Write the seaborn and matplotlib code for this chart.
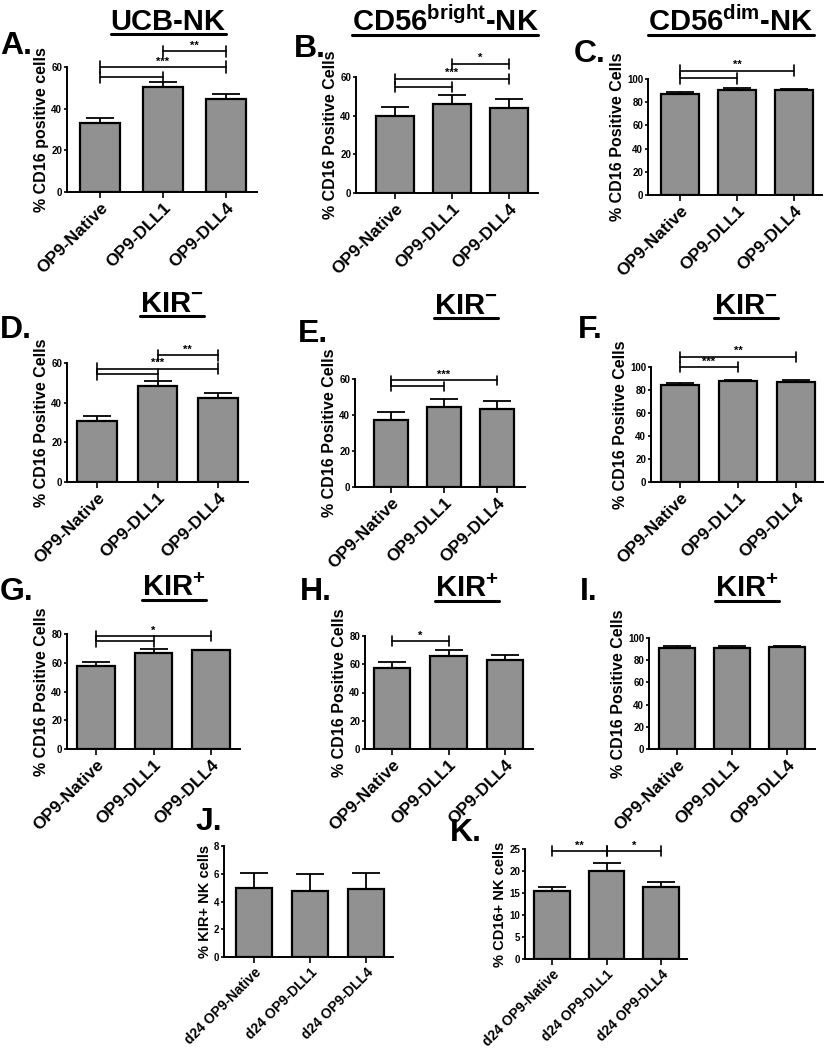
import matplotlib
matplotlib.use("Agg")
import matplotlib.pyplot as plt
from matplotlib.lines import Line2D
import seaborn as sns
import numpy as np

# ---------------- data ----------------
groups = ["OP9-Native", "OP9-DLL1", "OP9-DLL4"]
groups_d24 = ["d24 OP9-Native", "d24 OP9-DLL1", "d24 OP9-DLL4"]

A_mean = [33.0, 50.2, 44.7]
A_sem = [2.4, 2.4, 2.2]
A_sig = [(1, 2, 67.5, "**"), (0, 2, 60.0, "***"), (0, 1, 55.0, "")]

B_mean = [39.9, 45.9, 44.2]
B_sem = [4.8, 4.9, 4.5]
B_sig = [(1, 2, 66.8, "*"), (0, 2, 59.1, "***"), (0, 1, 54.8, "")]

C_mean = [87.0, 90.8, 90.5]
C_sem = [1.5, 1.1, 0.9]
C_sig = [(0, 2, 107.2, "**"), (0, 1, 100.6, "")]

D_mean = [30.9, 48.5, 42.5]
D_sem = [2.5, 2.5, 2.3]
D_sig = [(1, 2, 63.9, "**"), (0, 2, 57.2, "***"), (0, 1, 54.3, "")]

E_mean = [37.2, 44.3, 43.4]
E_sem = [4.7, 4.5, 4.5]
E_sig = [(0, 2, 59.2, "***"), (0, 1, 55.9, "")]

F_mean = [84.7, 87.9, 87.3]
F_sem = [1.2, 0.9, 1.2]
F_sig = [(0, 2, 108.9, "**"), (0, 1, 100.0, "***")]

G_mean = [57.4, 66.7, 68.8]
G_sem = [3.1, 2.8, 0.3]
G_sig = [(0, 2, 78.4, "*"), (0, 1, 74.9, "")]

H_mean = [57.2, 65.9, 63.1]
H_sem = [4.4, 4.0, 3.7]
H_sig = [(0, 1, 76.5, "*")]

I_mean = [91.0, 91.3, 91.6]
I_sem = [1.5, 1.2, 1.5]
I_sig = []

J_mean = [5.0, 4.76, 4.93]
J_sem = [1.06, 1.2, 1.13]
J_sig = []

K_mean = [15.35, 20.06, 16.4]
K_sem = [0.91, 1.67, 1.2]
K_sig = [(0, 1, 24.5, "**"), (1, 2, 24.5, "*")]

titles = {
    "A": "UCB-NK",
    "B": r"CD56$^{\mathbf{bright}}$-NK",
    "C": r"CD56$^{\mathbf{dim}}$-NK",
    "D": r"KIR$^{\mathbf{-}}$", "E": r"KIR$^{\mathbf{-}}$", "F": r"KIR$^{\mathbf{-}}$",
    "G": r"KIR$^{\mathbf{+}}$", "H": r"KIR$^{\mathbf{+}}$", "I": r"KIR$^{\mathbf{+}}$",
}
ylabels = {
    "A": "% CD16 positive cells",
    "J": "% KIR+ NK cells",
    "K": "% CD16+ NK cells",
}
default_ylabel = "% CD16 Positive Cells"

# ---------------- layout (pixels) ----------------
W, H = 825, 1050
# panel: (axes left, right, top, bottom, first cat px, last cat px, ymax, ystep)
layout = {
    "A": (67, 257, 67, 192, 100, 226, 60, 20),
    "B": (356, 538, 77, 193, 395, 509, 60, 20),
    "C": (648, 822, 79, 195, 680, 794, 100, 20),
    "D": (67, 248, 363, 482, 97, 218, 60, 20),
    "E": (355, 525, 379, 487, 391, 497, 60, 20),
    "F": (651, 823, 367, 482, 680, 796, 100, 20),
    "G": (67, 240, 634, 749, 96, 211, 80, 20),
    "H": (365, 533, 636, 749, 392, 505, 80, 20),
    "I": (649, 815, 638, 749, 677, 787, 100, 20),
    "J": (224, 393, 846, 957, 254, 366, 8, 2),
    "K": (525, 687, 849, 959, 552, 661, 25, 5),
}
title_pos = {
    "A": (168, 22), "B": (445, 22), "C": (731, 22),
    "D": (172, 304), "E": (466, 306), "F": (746, 306),
    "G": (174, 588), "H": (467, 589), "I": (747, 589),
}
letter_pos = {
    "A": (0, 46), "B": (294, 49), "C": (574, 54),
    "D": (0, 330), "E": (298, 334), "F": (578, 330),
    "G": (0, 592), "H": (300, 592), "I": (580, 592),
    "J": (196, 822), "K": (450, 833),
}

data = {
    "A": (A_mean, A_sem, A_sig), "B": (B_mean, B_sem, B_sig), "C": (C_mean, C_sem, C_sig),
    "D": (D_mean, D_sem, D_sig), "E": (E_mean, E_sem, E_sig), "F": (F_mean, F_sem, F_sig),
    "G": (G_mean, G_sem, G_sig), "H": (H_mean, H_sem, H_sig), "I": (I_mean, I_sem, I_sig),
    "J": (J_mean, J_sem, J_sig), "K": (K_mean, K_sem, K_sig),
}

# ---------------- style ----------------
sns.set_theme(style="ticks")
plt.rcParams["font.family"] = ["Liberation Sans", "DejaVu Sans"]
plt.rcParams["font.weight"] = "bold"
plt.rcParams["mathtext.fontset"] = "custom"
plt.rcParams["mathtext.bf"] = "Liberation Sans:bold"
plt.rcParams["mathtext.rm"] = "Liberation Sans:bold"
plt.rcParams["axes.linewidth"] = 1.4
for k in ("text.color", "axes.labelcolor", "xtick.color", "ytick.color", "axes.edgecolor"):
    plt.rcParams[k] = "black"

BAR_COLOR = "#919191"

fig = plt.figure(figsize=(W / 100, H / 100), dpi=100)
fig.patch.set_facecolor("white")

def fx(x):
    return x / W

def fy(y):
    return 1 - y / H

title_texts = []
for key, (L, R, T, B, c0, c2, ymax, ystep) in layout.items():
    means, sems, sigs = data[key]
    ax = fig.add_axes([fx(L), fy(B), (R - L) / W, (B - T) / H])
    cats = groups_d24 if key in ("J", "K") else groups
    sns.barplot(x=cats, y=means, ax=ax, color=BAR_COLOR, saturation=1,
                edgecolor="black", linewidth=1.6, width=0.65, errorbar=None, zorder=2)
    xs = np.arange(len(means))
    ax.errorbar(xs, means, yerr=[np.zeros(len(sems)), sems], fmt="none",
                ecolor="black", elinewidth=1.3, capsize=10, capthick=1.3, zorder=1)
    s = (c2 - c0) / 2
    ax.set_xlim((L - c0) / s, (R - c0) / s)
    ax.set_ylim(0, ymax)
    ax.set_yticks(np.arange(0, ymax + 0.01, ystep))
    ax.tick_params(axis="y", labelsize=7, length=2.5, width=1.2, pad=1)
    small = key in ("J", "K")
    ax.tick_params(axis="x", labelsize=10 if small else 12.5, length=4, width=1.2, pad=2)
    for lab in ax.get_yticklabels():
        lab.set_fontweight("bold")
    ax.set_xticks(xs)
    ax.set_xticklabels(cats, rotation=45, ha="right", rotation_mode="anchor",
                       fontweight="bold")
    ax.set_ylabel(ylabels.get(key, default_ylabel), fontsize=10.5 if small else 11.5,
                  fontweight="bold", labelpad=1.5)
    ax.set_xlabel("")
    sns.despine(ax=ax)
    ax.set_facecolor("none")

    # significance brackets
    cap = 0.045 * ymax
    for (i, j, yv, lab) in sigs:
        ax.plot([i, j], [yv, yv], color="black", lw=1.2, clip_on=False, zorder=3)
        for xe in (i, j):
            ax.plot([xe, xe], [yv - cap, yv + cap], color="black", lw=1.2,
                    clip_on=False, zorder=3)
        if lab:
            ax.text((i + j) / 2, yv + 0.005 * ymax, lab, ha="center", va="bottom",
                    fontsize=8, fontweight="bold", clip_on=False)

    # panel letter
    lx, ly = letter_pos[key]
    fig.text(fx(lx), fy(ly), key + ".", fontsize=23, fontweight="bold",
             ha="left", va="center")

    if key in title_pos:
        tx, ty = title_pos[key]
        t = fig.text(fx(tx), fy(ty), titles[key], fontsize=21, fontweight="bold",
                     ha="center", va="center")
        title_texts.append(t)

fig.canvas.draw()
renderer = fig.canvas.get_renderer()
for t in title_texts:
    bb = t.get_window_extent(renderer)
    yline = (bb.y0 + 2) / H
    fig.add_artist(Line2D([bb.x0 / W, bb.x1 / W], [yline, yline],
                          transform=fig.transFigure, color="black", lw=2.2))

fig.savefig("out.png", dpi=100, facecolor="white")
